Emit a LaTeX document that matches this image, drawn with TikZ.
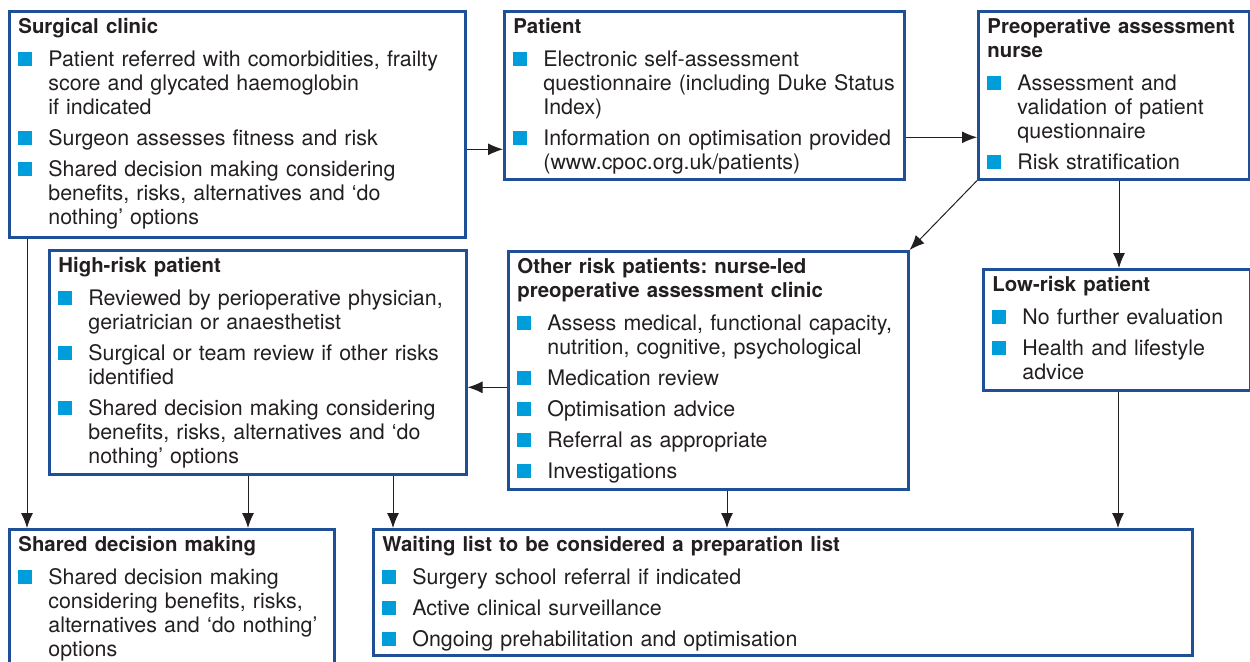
\documentclass[tikz,border=0pt]{standalone}
\usepackage{fontspec}
\setmainfont{TeX Gyre Heros}
\usetikzlibrary{positioning, arrows.meta}
\definecolor{boxblue}{RGB}{31,79,150}
\definecolor{bulletblue}{RGB}{0,157,219}
\definecolor{inkgray}{RGB}{35,31,32}
\frenchspacing
\newcommand{\head}[1]{\strut{\fontsize{10.2}{12}\selectfont\bfseries #1}\par\vspace{4.5pt}}
\newcommand{\bitem}[1]{\hangindent=15pt\hangafter=1\noindent\makebox[15pt][l]{\textcolor{bulletblue}{\rule{7pt}{7pt}}}#1\par\vspace{3.5pt}}

\begin{document}
\begin{tikzpicture}
    [
        x=0.5pt, y=-0.5pt,
        panel/.style={draw=boxblue, line width=1.3pt, anchor=north west, inner sep=0pt},
        listtext/.style={anchor=north west, inner xsep=5pt, inner ysep=3pt, align=left, font=\fontsize{10.7}{12}\selectfont, text=inkgray},
        arr/.style={-{Latex[length=7.5pt, width=6pt]}, line width=0.5pt, color=inkgray},
    ]
        \useasboundingbox (0,0) rectangle (1250,661);
        % boxes
        \node[panel, minimum width=228pt, minimum height=113pt] (surg) at (8,10) {};
        \node[panel, minimum width=200pt, minimum height=84pt] (pat) at (503,10) {};
        \node[panel, minimum width=135.5pt, minimum height=84pt] (nurse) at (977,10) {};
        \node[panel, minimum width=208.5pt, minimum height=112pt] (high) at (48,249) {};
        \node[panel, minimum width=200pt, minimum height=119pt] (other) at (507,250) {};
        \node[panel, minimum width=133.5pt, minimum height=60.5pt] (low) at (982,268) {};
        \node[panel, minimum width=162.5pt, minimum height=69.5pt] (sdm) at (8,528) {};
        \node[panel, minimum width=409.5pt, minimum height=63pt] (wait) at (372,528) {};
        % texts
        \node[listtext, text width=228pt] (surgtxt) at (surg.north west) {\head{Surgical clinic}
            \bitem{Patient referred with comorbidities, frailty\newline score and glycated haemoglobin\newline if indicated}
            \bitem{Surgeon assesses fitness and risk}
            \bitem{Shared decision making considering\newline benefits, risks, alternatives and ‘do\newline nothing’ options}};
        \node[listtext, text width=200pt] (pattxt) at (pat.north west) {\head{Patient}
            \bitem{Electronic self-assessment\newline questionnaire (including Duke Status\newline Index)}
            \bitem{Information on optimisation provided\newline (www.cpoc.org.uk/patients)}};
        \node[listtext, text width=135pt] (nursetxt) at (nurse.north west) {\head{Preoperative assessment\newline nurse}
            \bitem{Assessment and\newline validation of patient\newline questionnaire}
            \bitem{Risk stratification}};
        \node[listtext, text width=208pt] (hightxt) at (high.north west) {\head{High-risk patient}
            \bitem{Reviewed by perioperative physician,\newline geriatrician or anaesthetist}
            \bitem{Surgical or team review if other risks\newline identified}
            \bitem{Shared decision making considering\newline benefits, risks, alternatives and ‘do\newline nothing’ options}};
        \node[listtext, text width=200pt] (othertxt) at (other.north west) {\head{Other risk patients: nurse-led\newline preoperative assessment clinic}
            \bitem{Assess medical, functional capacity,\newline nutrition, cognitive, psychological}
            \bitem{Medication review}
            \bitem{Optimisation advice}
            \bitem{Referral as appropriate}
            \bitem{Investigations}};
        \node[listtext, text width=133pt] (lowtxt) at (low.north west) {\head{Low-risk patient}
            \bitem{No further evaluation}
            \bitem{Health and lifestyle\newline advice}};
        \node[listtext, text width=162pt] (sdmtxt) at (sdm.north west) {\head{Shared decision making}
            \bitem{Shared decision making\newline considering benefits, risks,\newline alternatives and ‘do nothing’\newline options}};
        \node[listtext, text width=405pt] (waittxt) at (wait.north west) {\head{Waiting list to be considered a preparation list}
            \bitem{Surgery school referral if indicated}
            \bitem{Active clinical surveillance}
            \bitem{Ongoing prehabilitation and optimisation}};
        % arrows
        \draw[arr] ([yshift=-12.5pt]surg.east) -- ([yshift=-27pt]pat.west) ;
        \draw[arr] ([yshift=-21pt]pat.east) -- ([yshift=-21pt]nurse.west) ;
        \draw[arr] (nurse.south west) -- (other.north east) ;
        \draw[arr] ([xshift=71pt]nurse.south west) -- ([xshift=68.5pt]low.north west) ;
        \draw[arr] ([yshift=-8.5pt]other.west) -- ([yshift=-12.5pt]high.east) ;
        \draw[arr] ([xshift=9.5pt]surg.south west) -- ([xshift=9.5pt]sdm.north west) ;
        \draw[arr] ([xshift=100pt]high.south west) -- ([xshift=120pt]sdm.north west) ;
        \draw[arr] ([xshift=172.5pt]high.south west) -- ([xshift=10.5pt]wait.north west) ;
        \draw[arr] ([xshift=110pt]other.south west) -- ([xshift=177.5pt]wait.north west) ;
        \draw[arr] ([xshift=68pt]low.south west) -- ([xshift=373pt]wait.north west) ;
    \end{tikzpicture}
\end{document}
